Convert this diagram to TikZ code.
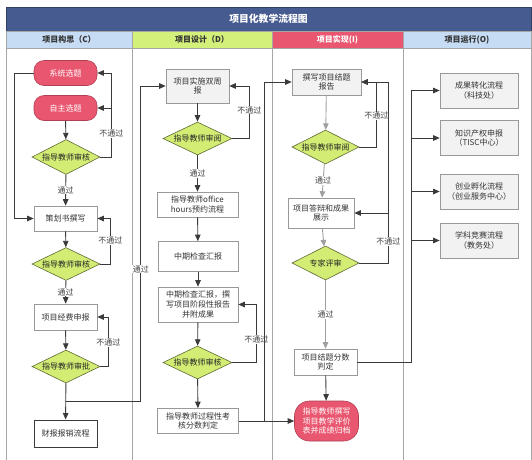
\documentclass[tikz,border=0pt]{standalone}
\usepackage{fontspec}
\setmainfont{Noto Sans CJK SC}
\usetikzlibrary{shapes.geometric,arrows.meta,calc}

\definecolor{titleblue}{HTML}{465B8F}
\definecolor{laneblue}{HTML}{C6DCF4}
\definecolor{lanegreen}{HTML}{D3F07A}
\definecolor{lanered}{HTML}{E9566F}
\definecolor{diagreen}{HTML}{D2EC74}
\definecolor{boxgray}{HTML}{F2F2F2}
\definecolor{linegray}{HTML}{3A3A3A}

\begin{document}
\begin{tikzpicture}[x=1pt, y=-1pt,
    font=\fontsize{8}{9.6}\selectfont,
    arr/.style={draw=linegray, line width=0.9pt, -{Triangle[length=6.5pt,width=5.5pt]}},
    arrlight/.style={arr, draw=gray!75},
    process/.style={rectangle, draw=gray!80, fill=white, line width=0.6pt, align=center, text=black!80, inner sep=1pt},
    grayproc/.style={process, fill=boxgray},
    startstop/.style={rectangle, rounded corners=10pt, draw=lanered!75!black, fill=lanered, text=white, align=center, line width=0.6pt, inner sep=1pt},
    decision/.style={diamond, draw=diagreen!45!black, fill=diagreen, aspect=2, inner sep=0.5pt, minimum width=68, minimum height=34, line width=0.6pt, text=black!85},
    lbl/.style={fill=white, inner sep=0.6pt, text=black!75},
    lanehead/.style={rectangle, draw=gray!70, minimum height=17, font=\bfseries\fontsize{8}{9}\selectfont, text=black!80}
]
    \useasboundingbox (0,0) rectangle (532,459);

    % Draw the title bar and the lane headers
    \node[rectangle, draw=titleblue!70!black, fill=titleblue, minimum width=525, minimum height=24, text=white, font=\bfseries\fontsize{9.8}{11}\selectfont] (title) at (268.5,19) {项目化教学流程图};
    \node[lanehead, fill=laneblue, minimum width=126] (hc) at (69,39.5) {项目构思（C）};
    \node[lanehead, fill=lanegreen, minimum width=140] (hd) at (202,39.5) {项目设计（D）};
    \node[lanehead, fill=lanered, minimum width=131, text=white] (hi) at (337.5,39.5) {项目实现(I)};
    \node[lanehead, fill=laneblue, minimum width=128] (ho) at (467,39.5) {项目运行(O)};

    % Draw the lane borders
    \foreach \x in {6,132,272,403,531}
        \draw[gray!70, line width=0.6pt] (\x,48) -- (\x,462);

    % Lane C
    \node[startstop, minimum width=63, minimum height=25] (c1) at (65.5,73) {系统选题};
    \node[startstop, minimum width=63, minimum height=25] (c2) at (65.5,108) {自主选题};
    \node[decision, minimum height=35] (c3) at (66,157) {指导教师审核};
    \node[process, minimum width=63, minimum height=25] (c4) at (65.5,218.5) {策划书撰写};
    \node[decision, minimum height=32] (c5) at (66,264) {指导教师审核};
    \node[process, minimum width=63, minimum height=26] (c6) at (65.5,317) {项目经费申报};
    \node[decision, minimum height=33] (c7) at (66,366.5) {指导教师审批};
    \node[process, draw=linegray, line width=1pt, minimum width=63, minimum height=27] (c8) at (65.5,433.5) {财报报销流程};

    % Lane D
    \node[grayproc, minimum width=63, minimum height=34] (d1) at (197.5,86) {项目实施双周\\报};
    \node[decision, minimum width=69, minimum height=33] (d2) at (197.5,138.5) {指导教师审阅};
    \node[process, minimum width=81, minimum height=25] (d3) at (197.5,204.5) {指导教师office\\hours预约流程};
    \node[process, minimum width=80, minimum height=30] (d4) at (198,256.5) {中期检查汇报};
    \node[process, minimum width=80, minimum height=35] (d5) at (198,304.5) {中期检查汇报，撰\\写项目阶段性报告\\并附成果};
    \node[decision, minimum width=69, minimum height=33] (d6) at (197.5,362.5) {指导教师审核};
    \node[process, minimum width=81, minimum height=25] (d7) at (198,421) {指导教师过程性考\\核分数判定};

    % Lane I
    \node[grayproc, minimum width=69, minimum height=26] (i1) at (326.5,82) {撰写项目结题\\报告};
    \node[decision, minimum width=67, minimum height=34] (i2) at (325.5,147) {指导教师审阅};
    \node[process, minimum width=66, minimum height=30] (i3) at (321,213) {项目答辩和成果\\展示};
    \node[decision, minimum width=67, minimum height=34] (i4) at (325.5,263) {专家评审};
    \node[process, minimum width=63, minimum height=26] (i5) at (325.5,362) {项目结题分数\\判定};
    \node[startstop, rounded corners=15pt, minimum width=64, minimum height=40] (i6) at (326.5,421) {指导教师撰写\\项目教学评价\\表并成绩归档};

    % Lane O
    \node[grayproc, minimum width=78, minimum height=35] (o1) at (479,90.5) {成果转化流程\\（科技处）};
    \node[grayproc, minimum width=78, minimum height=35] (o2) at (479,138) {知识产权申报\\（TISC中心）};
    \node[grayproc, minimum width=78, minimum height=35] (o3) at (479,191.5) {创业孵化流程\\（创业服务中心）};
    \node[grayproc, minimum width=78, minimum height=35] (o4) at (479,240.5) {学科竞赛流程\\（教务处）};

    % Connectors in lane C
    \draw[arr] (c2) -- (c3);
    \draw[arr] (c3.east) -- ++(11,0) coordinate (c3r) |- node[lbl, pos=0.14] (t1) {不通过} (c1.east);
    \draw[arr] (c3r |- c2.east) -- (c2.east);
    \draw[arr] (c1.west) -- ++(-19,0) |- (c4.west);
    \draw[arr] (c3) -- node[lbl] (p1) {通过} (c4);
    \draw[arr] (c4) -- (c5);
    \draw[arr] (c5.east) -- ++(10,0) |- node[lbl, pos=0.26] (t2) {不通过} (c4.east);
    \draw[arr] (c5) -- node[lbl] (p2) {通过} (c6);
    \draw[arr] (c6) -- (c7);
    \draw[arr] (c7.east) -- ++(8,0) |- node[lbl, pos=0.24] (t3) {不通过} (c6.east);
    \draw[arr] (c7) -- (c8);
    \coordinate (c7b) at ($(c7.south)!0.5!(c8.north)$);
    \draw[arr] (c7b) -- ++(75,0) |- node[lbl, pos=0.21] (p3) {通过} (d1.west);

    % Connectors in lane D
    \draw[arr] (d1) -- (d2);
    \draw[arr] (d2.east) -- ++(17,0) |- node[lbl, pos=0.27] (t4) {不通过} (d1.east);
    \draw[arr] (d2) -- node[lbl] (p4) {通过} (d3);
    \draw[arr] (d3) -- (d4);
    \draw[arr] (d4) -- (d5);
    \draw[arr] (d5) -- (d6);
    \draw[arr] (d6.east) -- ++(24,0) |- node[lbl, pos=0.2] (t5) {不通过} (d5.east);
    \draw[arr] (d6) -- (d7);
    \draw[arr] (d7.east) -- (i6.west);
    \draw[arr] (d7.east) -- ++(26,0) |- (i1.west);

    % Connectors in lane I
    \draw[arrlight] (i1) -- (i2);
    \draw[arr] (i2.east) -- ++(17,0) |- node[lbl, pos=0.24] (t6) {不通过} (i1.east);
    \draw[arrlight] (i2) -- node[lbl] (p5) {通过} (i3);
    \draw[arrlight] (i3) -- (i4);
    \draw[arr] (i4.east) -- ++(29,0) coordinate (i4r) |- node[lbl, pos=0.06] (t7) {不通过} (i1.east);
    \draw[arr] (i4r |- i3.east) -- (i3.east);
    \draw[arrlight] (i4) -- node[lbl] (p6) {通过} (i5);
    \draw[arr] (i5) -- (i6);

    % Connectors to lane O
    \draw[arr] (i5.east) -- ++(54.5,0) coordinate (oj) |- (o1.west);
    \foreach \n in {o2,o3,o4}
        \draw[arr] (oj |- \n.west) -- (\n.west);

\end{tikzpicture}
\end{document}
